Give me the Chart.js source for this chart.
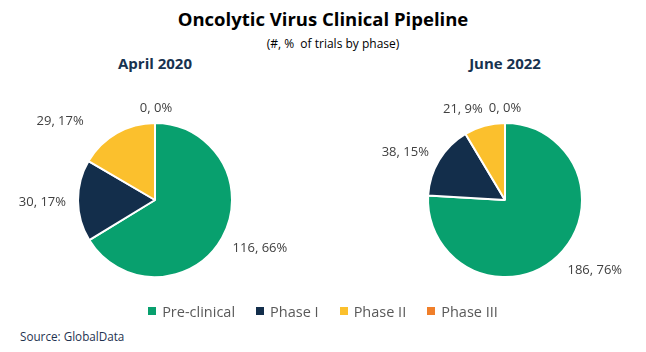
<!DOCTYPE html>
<html lang="en">
<head>
<meta charset="UTF-8">
<title>Oncolytic Virus Clinical Pipeline</title>
<script src="https://cdn.jsdelivr.net/npm/chart.js"></script>
<style>
  body { margin: 0; background: white; font-family: "Open Sans", sans-serif; }
  #wrap { position: relative; width: 646px; height: 352px; overflow: hidden; }
  .t { position: absolute; white-space: nowrap; }
  #title { left: 0; width: 646px; top: 6px; text-align: center; font-size: 18.5px; font-weight: bold; color: #000; }
  #sub { left: 10px; width: 646px; top: 35px; text-align: center; font-size: 12px; color: #000; }
  .year { font-size: 15px; font-weight: bold; color: #17324f; width: 200px; text-align: center; top: 53px; }
  canvas { position: absolute; }
  #legend { position: absolute; top: 302px; left: 0; width: 646px; display: flex; justify-content: center; gap: 21px; font-size: 14.5px; color: #595959; }
  #legend span.sw { display: inline-block; width: 8px; height: 8px; margin-right: 6px; vertical-align: 2px; }
  #source { left: 20px; top: 328px; font-size: 11.7px; color: #1f3350; }
</style>
</head>
<body>
<div id="wrap">
  <div class="t" id="title">Oncolytic Virus Clinical Pipeline</div>
  <div class="t" id="sub">(#, %&nbsp; of trials by phase)</div>
  <div class="t year" style="left:55px">April 2020</div>
  <div class="t year" style="left:405px">June 2022</div>
  <canvas id="pie2020" width="280" height="220" style="left:15px; top:90px"></canvas>
  <canvas id="pie2022" width="280" height="220" style="left:365px; top:90px"></canvas>
  <div id="legend"></div>
  <div class="t" id="source">Source: GlobalData</div>
</div>

<script>
  // Data
  const phases = ['Pre-clinical', 'Phase I', 'Phase II', 'Phase III'];
  const trials2020 = [116, 30, 29, 0];
  const pct2020 = [66, 17, 17, 0];
  const trials2022 = [186, 38, 21, 0];
  const pct2022 = [76, 15, 9, 0];
  const colors = ['#08a06e', '#132e4b', '#fbc02d', '#f07f2a'];

  // legend
  const legend = document.getElementById('legend');
  phases.forEach((p, i) => {
    const item = document.createElement('div');
    item.innerHTML = '<span class="sw" style="background:' + colors[i] + '"></span>' + p;
    legend.appendChild(item);
  });

  // draws "n, p%" outside each slice (nudge = [extra radius, dx, dy])
  const outsideLabels = {
    id: 'outsideLabels',
    afterDatasetsDraw(chart, args, opts) {
      const ctx = chart.ctx;
      const meta = chart.getDatasetMeta(0);
      const vals = chart.data.datasets[0].data;
      ctx.save();
      ctx.font = '13px "Open Sans", sans-serif';
      ctx.fillStyle = '#404040';
      ctx.textBaseline = 'middle';
      meta.data.forEach((arc, i) => {
        const p = arc.getProps(['x', 'y', 'startAngle', 'endAngle', 'outerRadius'], true);
        const mid = (p.startAngle + p.endAngle) / 2;
        const c = Math.cos(mid), s = Math.sin(mid);
        const n = opts.nudge[i];
        const r = p.outerRadius + n[0];
        const x = p.x + c * r + n[1], y = p.y + s * r + n[2];
        ctx.textAlign = c > 0.2 ? 'left' : (c < -0.2 ? 'right' : 'center');
        ctx.fillText(vals[i] + ', ' + opts.pct[i] + '%', x, y);
      });
      ctx.restore();
    }
  };

  function makePie(id, values, pct, nudge) {
    new Chart(document.getElementById(id), {
      type: 'pie',
      data: {
        labels: phases,
        datasets: [{
          data: values,
          backgroundColor: colors,
          borderColor: '#ffffff',
          borderWidth: 2
        }]
      },
      options: {
        responsive: false,
        animation: false,
        layout: { padding: { left: 62, right: 62, top: 32, bottom: 32 } },
        plugins: {
          legend: { display: false },
          tooltip: { enabled: false },
          outsideLabels: { pct: pct, nudge: nudge }
        }
      },
      plugins: [outsideLabels]
    });
  }

  makePie('pie2020', trials2020, pct2020, [[12, 0, 5], [12, 0, 1], [14, -26, 0], [15, 1, 0]]);
  makePie('pie2022', trials2022, pct2022, [[14, 0, 4], [12, 0, -2], [14, 2, -3], [15, 0, 0]]);
</script>
</body>
</html>
